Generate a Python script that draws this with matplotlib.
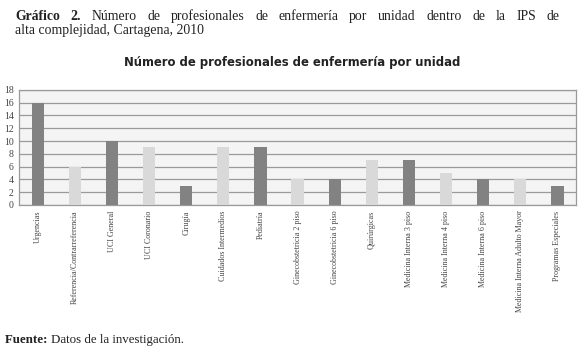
import numpy as np
import matplotlib.pyplot as plt

# Units and number of nursing professionals
unidades = ['Urgencias', 'Referencia/Contrarreferencia', 'UCI General', 'UCI Coronario',
            'Cirugía', 'Cuidados Intermedios', 'Pediatría', 'Ginecobstetricia 2 piso',
            'Ginecobstetricia 6 piso', 'Quirúrgicas', 'Medicina Interna 3 piso',
            'Medicina Interna 4 piso', 'Medicina Interna 6 piso',
            'Medicina Interna Adulto Mayor', 'Programas Especiales']
profesionales = [16, 6, 10, 9, 3, 9, 9, 4, 4, 7, 7, 5, 4, 4, 3]
y_ticks = [0, 2, 4, 6, 8, 10, 12, 14, 16, 18]

dark = '#828282'
light = '#d9d9d9'
colores = [dark if i % 2 == 0 else light for i in range(len(unidades))]

fig = plt.figure(figsize=(5.8, 3.51), dpi=100)
ax = fig.add_axes([0.033, 0.416, 0.960, 0.328])

x = np.arange(len(unidades))
ax.bar(x, profesionales, width=0.33, color=colores, zorder=3)

ax.set_facecolor('#f4f4f4')
ax.set_ylim(0, 18)
ax.set_yticks(y_ticks)
ax.set_xlim(-0.5, len(unidades) - 0.5)
ax.grid(axis='y', color='#9a9a9a', linewidth=0.9, zorder=1)
ax.set_xticks(x)
ax.set_xticklabels(unidades, rotation=90, fontsize=5.8, color='#444444',
                   family='Liberation Serif')
ax.tick_params(axis='y', labelsize=7, colors='#444444', length=0, pad=4)
for lab in ax.get_yticklabels():
    lab.set_family('Liberation Serif')
ax.tick_params(axis='x', length=0, pad=4)
for s in ax.spines.values():
    s.set_color('#9a9a9a')
    s.set_linewidth(0.9)

renderer = fig.canvas.get_renderer()
W = fig.bbox.width


def ancho(txt, size, peso):
    t = fig.text(0, 0, txt, fontsize=size, fontweight=peso, family='Liberation Serif')
    w = t.get_window_extent(renderer=renderer).width
    t.remove()
    return w / W


def justificado(x0, x1, y0, partes, size):
    # spread the words evenly between x0 and x1
    palabras = []
    for txt, peso in partes:
        palabras += [(p, peso) for p in txt.split(' ')]
    anchos = [ancho(p, size, peso) for p, peso in palabras]
    gap = (x1 - x0 - sum(anchos)) / (len(palabras) - 1)
    xx = x0
    for (p, peso), w in zip(palabras, anchos):
        fig.text(xx, y0, p, fontsize=size, fontweight=peso,
                 family='Liberation Serif', color='#222222', va='baseline')
        xx += w + gap


def en_linea(x0, y0, partes, size):
    xx = x0
    for txt, peso in partes:
        t = fig.text(xx, y0, txt, fontsize=size, fontweight=peso,
                     family='Liberation Serif', color='#222222', va='baseline')
        xx += t.get_window_extent(renderer=renderer).width / W


justificado(0.026, 0.965, 0.943, [('Gráfico 2.', 'bold'),
            ('Número de profesionales de enfermería por unidad dentro de la IPS de', 'normal')], 9.9)
en_linea(0.026, 0.903, [('alta complejidad, Cartagena, 2010', 'normal')], 9.9)
fig.text(0.503, 0.822, 'Número de profesionales de enfermería por unidad', fontsize=8.4,
         fontweight='bold', color='#222222', ha='center', va='center')
en_linea(0.009, 0.023, [('Fuente: ', 'bold'), ('Datos de la investigación.', 'normal')], 9.3)

fig.savefig('out.png', dpi=100, facecolor='white')
